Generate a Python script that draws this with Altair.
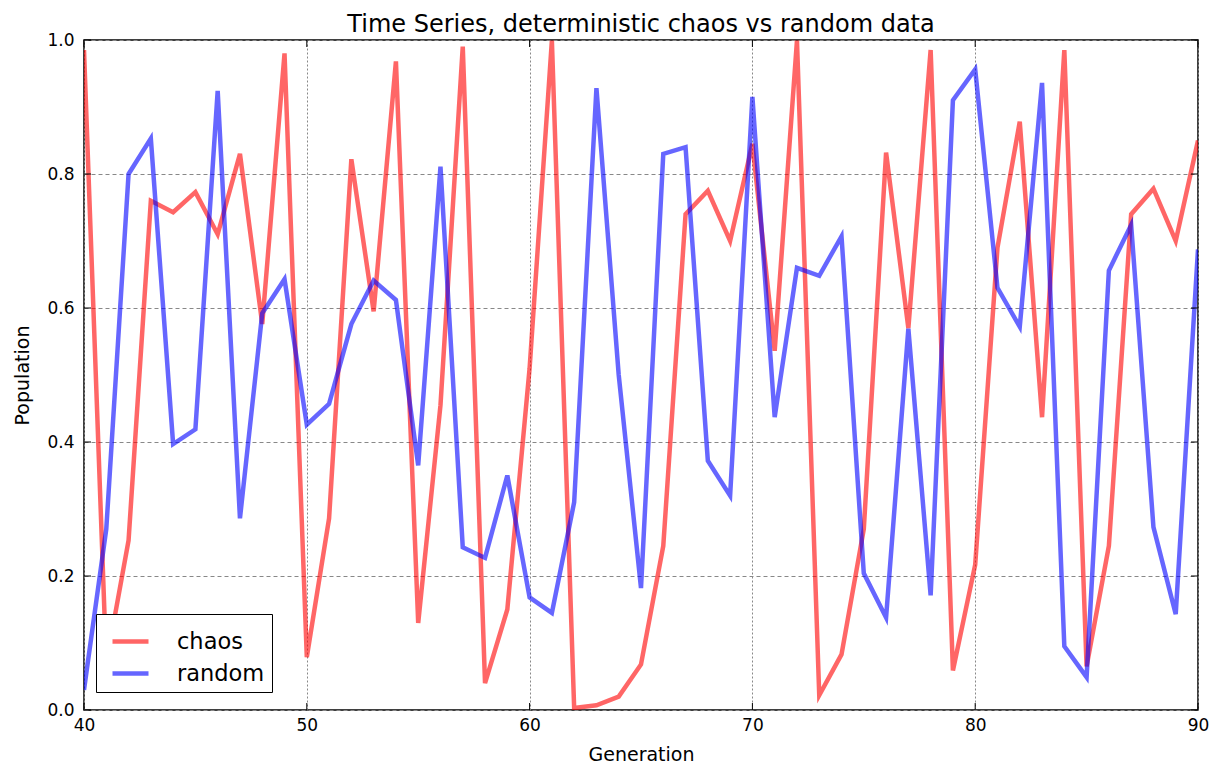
import altair as alt
import pandas as pd

generations = list(range(40, 91))
chaos = [0.985, 0.07, 0.253, 0.76, 0.743, 0.773, 0.71, 0.83, 0.576, 0.98,
         0.079, 0.286, 0.822, 0.595, 0.968, 0.13, 0.455, 0.99, 0.04, 0.15,
         0.51, 0.999, 0.003, 0.007, 0.02, 0.068, 0.245, 0.74, 0.775, 0.70,
         0.845, 0.536, 0.999, 0.022, 0.083, 0.27, 0.832, 0.57, 0.985, 0.059,
         0.217, 0.69, 0.878, 0.437, 0.985, 0.065, 0.245, 0.74, 0.778, 0.70,
         0.85]
random_vals = [0.03, 0.27, 0.80, 0.853, 0.397, 0.419, 0.924, 0.286, 0.592, 0.643,
               0.426, 0.457, 0.576, 0.641, 0.612, 0.365, 0.811, 0.243, 0.227, 0.35,
               0.168, 0.145, 0.31, 0.928, 0.5, 0.182, 0.83, 0.84, 0.372, 0.32,
               0.915, 0.437, 0.66, 0.648, 0.707, 0.204, 0.138, 0.569, 0.171, 0.91,
               0.956, 0.63, 0.572, 0.936, 0.095, 0.049, 0.656, 0.724, 0.273, 0.143,
               0.6875]
series_names = ["chaos", "random"]
series_colors = ["#ff0000", "#0000ff"]
x_ticks = [40, 50, 60, 70, 80, 90]
y_ticks = [0.0, 0.2, 0.4, 0.6, 0.8, 1.0]

rows = []
for i, g in enumerate(generations):
    rows.append({"Generation": g, "Population": chaos[i], "series": "chaos", "ord": 0})
for i, g in enumerate(generations):
    rows.append({"Generation": g, "Population": random_vals[i], "series": "random", "ord": 1})
df = pd.DataFrame(rows)
xt = pd.DataFrame({"t": x_ticks})
yt = pd.DataFrame({"t": y_ticks})

FONT = "DejaVu Sans"
W, H = 1114, 670
TICK = 7

xscale = alt.Scale(domain=[40, 90], nice=False, zero=False)
yscale = alt.Scale(domain=[0, 1], nice=False)

lines = alt.Chart(df).mark_line(strokeWidth=4.5, opacity=0.6, clip=True).encode(
    x=alt.X("Generation:Q", scale=xscale,
            axis=alt.Axis(values=x_ticks, title="Generation", format="d",
                          gridDash=[2, 2])),
    y=alt.Y("Population:Q", scale=yscale,
            axis=alt.Axis(values=y_ticks, format=".1f", title="Population",
                          gridDash=[4, 3])),
    color=alt.Color("series:N",
                    scale=alt.Scale(domain=series_names, range=series_colors),
                    legend=alt.Legend(title=None, orient="none", legendX=12, legendY=574,
                                      symbolType="stroke", symbolStrokeWidth=4.5,
                                      symbolSize=1296, symbolOpacity=0.6,
                                      symbolOffset=7,
                                      labelFontSize=22.5, labelFont=FONT,
                                      labelColor="#000",
                                      strokeColor="#000", fillColor="#fff",
                                      padding=7, rowPadding=-1,
                                      labelOffset=26)),
    detail="ord:O",
    order="ord:Q",
)

tick_x_bottom = alt.Chart(xt).mark_rule(color="#000", strokeWidth=1).encode(
    x=alt.X("t:Q", scale=xscale), y=alt.value(H - TICK), y2=alt.value(H))
tick_x_top = alt.Chart(xt).mark_rule(color="#000", strokeWidth=1).encode(
    x=alt.X("t:Q", scale=xscale), y=alt.value(0), y2=alt.value(TICK))
tick_y_left = alt.Chart(yt).mark_rule(color="#000", strokeWidth=1).encode(
    y=alt.Y("t:Q", scale=yscale), x=alt.value(0), x2=alt.value(TICK))
tick_y_right = alt.Chart(yt).mark_rule(color="#000", strokeWidth=1).encode(
    y=alt.Y("t:Q", scale=yscale), x=alt.value(W - TICK), x2=alt.value(W))

chart = alt.layer(lines, tick_x_bottom, tick_x_top, tick_y_left, tick_y_right).properties(
    width=W, height=H,
    title=alt.TitleParams("Time Series, deterministic chaos vs random data",
                          font=FONT, fontSize=24, fontWeight="normal",
                          color="#000", offset=-6),
    autosize=alt.AutoSizeParams(type="none"),
    padding={"left": 76, "top": 32, "right": 11, "bottom": 55},
).configure_view(
    stroke="#000", strokeWidth=1.5
).configure_axis(
    labelFont=FONT, labelFontSize=17, labelColor="#000", labelFlush=False,
    titleFont=FONT, titleFontSize=19, titleFontWeight="normal", titleColor="#000",
    grid=True, gridColor="#888", gridWidth=1,
    domain=False, ticks=False,
).configure_axisX(
    labelPadding=7, titlePadding=12
).configure_axisY(
    labelPadding=10, titlePadding=14
)

chart.save("out.html", embed_options={"renderer": "svg", "actions": False})
